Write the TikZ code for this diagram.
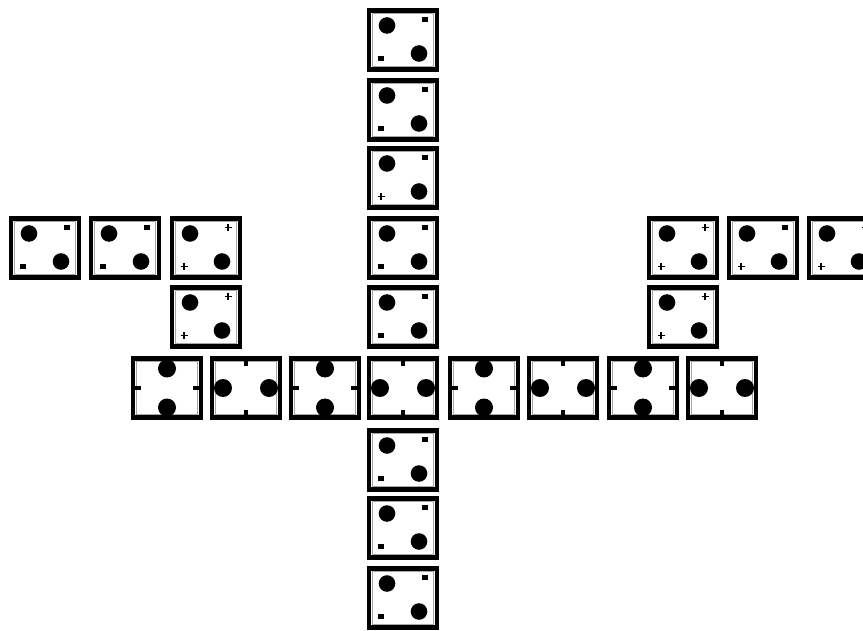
\documentclass[tikz,border=0pt]{standalone}
\usetikzlibrary{calc}
\tikzset{
  tile/.style={draw=black, line width=4.5pt, minimum width=68pt, minimum height=59pt,
    inner sep=0pt, outer sep=0pt, fill=white},
  tick/.style={line width=3.2pt},
  inner/.style={draw=black!35, line width=0.9pt}
}
\newcommand\frameIn[1]{\draw[inner] ($(#1.north west)+(3.2,3.2)$) rectangle ($(#1.south east)+(-3.2,-3.2)$);}
\newcommand\msq[1]{\fill (#1) ++(-2.6,-2.6) rectangle ++(5.2,5.2);}
\newcommand\mcr[1]{\draw[line width=1.8pt] ($(#1)+(-3.5,0)$) -- ($(#1)+(3.5,0)$) ($(#1)+(0,-3.5)$) -- ($(#1)+(0,3.5)$);}
\newcommand\diceA[3]{%
  \frameIn{#1}
  \fill ($(#1.north west)+(18,15)$) circle (8.3pt);
  \fill ($(#1.north west)+(50,43)$) circle (8.3pt);
  #2{$(#1.north west)+(56,9)$}
  #3{$(#1.north west)+(12,48)$}}
\newcommand\diceV[1]{%
  \frameIn{#1}
  \fill ($(#1.north)+(0,10)$) circle (9pt);
  \fill ($(#1.south)+(0,-10)$) circle (9pt);
  \draw[tick] (#1.west) -- ++(8,0);
  \draw[tick] (#1.east) -- ++(-8,0);}
\newcommand\diceH[1]{%
  \frameIn{#1}
  \fill ($(#1.west)+(11,0)$) circle (9pt);
  \fill ($(#1.east)+(-11,0)$) circle (9pt);
  \draw[tick] (#1.north) -- ++(0,8);
  \draw[tick] (#1.south) -- ++(0,-8);}
\begin{document}
\begin{tikzpicture}[x=1pt,y=-1pt]
\fill[white] (0,0) rectangle (863,631);
\useasboundingbox (0,0) rectangle (863,631);
\clip (0,0) rectangle (863,631);
% vertical column
\node[tile] (c1) at (403,40) {};
\node[tile] (c2) at (403,110) {};
\node[tile] (c3) at (403,178) {};
\node[tile] (c4) at (403,248) {};
\node[tile] (c5) at (403,317) {};
\node[tile] (c7) at (403,460) {};
\node[tile] (c8) at (403,528) {};
\node[tile] (c9) at (403,598) {};
\diceA{c1}{\msq}{\msq}
\diceA{c2}{\msq}{\msq}
\diceA{c3}{\msq}{\mcr}
\diceA{c4}{\msq}{\msq}
\diceA{c5}{\msq}{\msq}
\diceA{c7}{\msq}{\msq}
\diceA{c8}{\msq}{\msq}
\diceA{c9}{\msq}{\msq}
% horizontal row
\node[tile] (r1) at (167,388) {};
\node[tile] (r2) at (246,388) {};
\node[tile] (r3) at (325,388) {};
\node[tile] (r4) at (403,388) {};
\node[tile] (r5) at (484,388) {};
\node[tile] (r6) at (563,388) {};
\node[tile] (r7) at (643,388) {};
\node[tile] (r8) at (722,388) {};
\diceV{r1}
\diceH{r2}
\diceV{r3}
\diceH{r4}
\diceV{r5}
\diceH{r6}
\diceV{r7}
\diceH{r8}
% left arm
\node[tile] (l1) at (45,248) {};
\node[tile] (l2) at (125,248) {};
\node[tile] (l3) at (206,248) {};
\node[tile] (l4) at (206,317) {};
\diceA{l1}{\msq}{\msq}
\diceA{l2}{\msq}{\msq}
\diceA{l3}{\mcr}{\mcr}
\diceA{l4}{\mcr}{\mcr}
% right arm
\node[tile] (a1) at (683,248) {};
\node[tile] (a2) at (763,248) {};
\node[tile] (a3) at (843,248) {};
\node[tile] (a4) at (683,317) {};
\diceA{a1}{\mcr}{\mcr}
\diceA{a2}{\msq}{\mcr}
\diceA{a3}{\mcr}{\mcr}
\diceA{a4}{\mcr}{\mcr}
\end{tikzpicture}
\end{document}
